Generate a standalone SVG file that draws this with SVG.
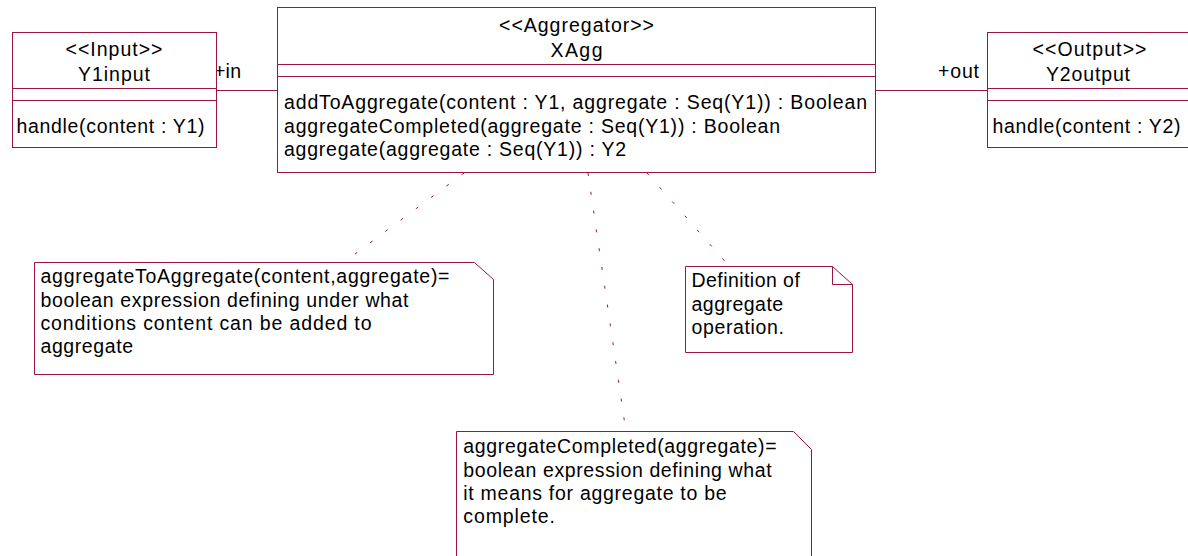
<svg xmlns="http://www.w3.org/2000/svg" width="1188" height="556" viewBox="0 0 1188 556">
<style>
.box{fill:#ffffff;stroke:#9c1444;stroke-width:1}
.sep{stroke:#9c1444;stroke-width:1;fill:none}
.conn{stroke:#9c1444;stroke-width:1;fill:none}
.dot{stroke:#9c1444;stroke-width:1;fill:none;stroke-dasharray:3 16}
text{font-family:"Liberation Sans",Arial,sans-serif;font-size:19.5px;fill:#000000}
.c{text-anchor:middle}
</style>
<rect width="1188" height="556" fill="#ffffff"/>
<g id="connectors">
<line class="conn" x1="216.5" y1="90.5" x2="277.5" y2="90.5"/>
<line class="conn" x1="875.5" y1="90.5" x2="987.5" y2="90.5"/>
<line class="dot" x1="464" y1="173" x2="343" y2="263"/>
<line class="dot" x1="588" y1="173" x2="626" y2="432"/>
<line class="dot" x1="647" y1="173" x2="730" y2="267"/>
<text x="214" y="78" textLength="27" lengthAdjust="spacing">+in</text>
<text x="938" y="78" textLength="41" lengthAdjust="spacing">+out</text>
</g>
<g id="Y1input">
<rect class="box" x="12.5" y="32.5" width="204" height="115"/>
<line class="sep" x1="12.5" y1="88.5" x2="216.5" y2="88.5"/>
<line class="sep" x1="12.5" y1="100.5" x2="216.5" y2="100.5"/>
<text class="c" x="114" y="56" textLength="97" lengthAdjust="spacing">&lt;&lt;Input&gt;&gt;</text>
<text class="c" x="114" y="81" textLength="72" lengthAdjust="spacing">Y1input</text>
<text x="16.5" y="133" textLength="188" lengthAdjust="spacing">handle(content : Y1)</text>
</g>
<g id="XAgg">
<rect class="box" x="277.5" y="7.5" width="598" height="165"/>
<line class="sep" x1="277.5" y1="64.5" x2="875.5" y2="64.5"/>
<line class="sep" x1="277.5" y1="76.5" x2="875.5" y2="76.5"/>
<text class="c" x="576.5" y="32" textLength="155" lengthAdjust="spacing">&lt;&lt;Aggregator&gt;&gt;</text>
<text class="c" x="576.5" y="57" textLength="52" lengthAdjust="spacing">XAgg</text>
<text x="284" y="109" textLength="583" lengthAdjust="spacing">addToAggregate(content : Y1, aggregate : Seq(Y1)) : Boolean</text>
<text x="284" y="132.5" textLength="496" lengthAdjust="spacing">aggregateCompleted(aggregate : Seq(Y1)) : Boolean</text>
<text x="284" y="156" textLength="342" lengthAdjust="spacing">aggregate(aggregate : Seq(Y1)) : Y2</text>
</g>
<g id="Y2output">
<rect class="box" x="987.5" y="32.5" width="204" height="115"/>
<line class="sep" x1="987.5" y1="88.5" x2="1191.5" y2="88.5"/>
<line class="sep" x1="987.5" y1="100.5" x2="1191.5" y2="100.5"/>
<text class="c" x="1089.5" y="56" textLength="114" lengthAdjust="spacing">&lt;&lt;Output&gt;&gt;</text>
<text class="c" x="1088" y="81" textLength="84" lengthAdjust="spacing">Y2output</text>
<text x="992.5" y="133" textLength="188" lengthAdjust="spacing">handle(content : Y2)</text>
</g>
<g id="note1">
<path class="box" d="M34.5,262.5 H474.5 L493.5,279.5 V374.5 H34.5 Z"/>
<text x="40.5" y="283.3" textLength="409" lengthAdjust="spacing">aggregateToAggregate(content,aggregate)=</text>
<text x="40.5" y="306.7" textLength="368" lengthAdjust="spacing">boolean expression defining under what</text>
<text x="40.5" y="330" textLength="331" lengthAdjust="spacing">conditions content can be added to</text>
<text x="40.5" y="353.3" textLength="92.5" lengthAdjust="spacing">aggregate</text>
</g>
<g id="note2">
<path class="box" d="M685.5,266.5 H832.5 L852.5,284.5 V352.5 H685.5 Z"/>
<path class="sep" d="M832.5,266.5 V284.5 H852.5"/>
<text x="691.5" y="287.3" textLength="108.3" lengthAdjust="spacing">Definition of</text>
<text x="691.5" y="310.7" textLength="91.7" lengthAdjust="spacing">aggregate</text>
<text x="691.5" y="334" textLength="92.3" lengthAdjust="spacing">operation.</text>
</g>
<g id="note3">
<path class="box" d="M456.5,431.5 H793.5 L811.5,449.5 V562 H456.5 Z"/>
<text x="463.3" y="453.3" textLength="313.3" lengthAdjust="spacing">aggregateCompleted(aggregate)=</text>
<text x="463.3" y="476.7" textLength="308.3" lengthAdjust="spacing">boolean expression defining what</text>
<text x="463.3" y="500" textLength="263.3" lengthAdjust="spacing">it means for aggregate to be</text>
<text x="463.3" y="523.3" textLength="91.7" lengthAdjust="spacing">complete.</text>
</g>
</svg>
